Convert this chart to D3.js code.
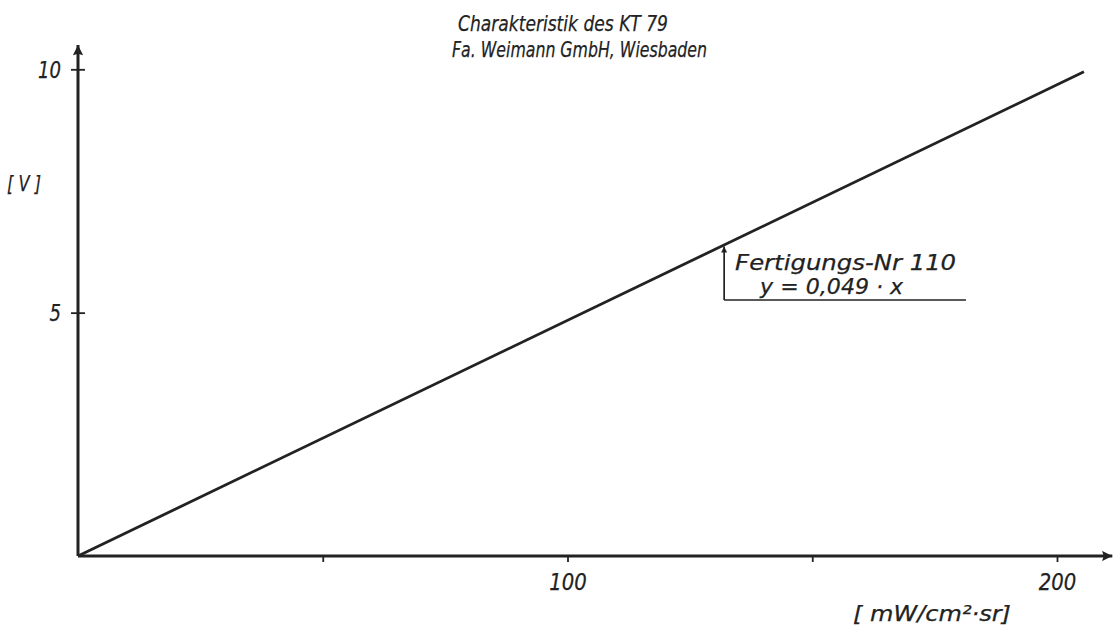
<!DOCTYPE html>
<html><head><meta charset="utf-8">
<script src="https://cdn.jsdelivr.net/npm/d3@7"></script>
<style>
html,body{margin:0;padding:0;background:#fff;}
svg text{font-family:"DejaVu Sans","Liberation Sans",sans-serif;font-style:italic;fill:#222;stroke:#222;stroke-width:0.25;}
</style></head>
<body>
<svg id="chart" width="1113" height="627"></svg>
<script>
// ---- data ----
const titleLines = ["Charakteristik des KT 79", "Fa. Weimann GmbH, Wiesbaden"];
const xTicks = [50, 100, 150, 200];
const xTickLabels = ["", "100", "", "200"];
const yTicks = [5, 10];
const yTickLabels = ["5", "10"];
const xAxisLabel = "[ mW/cm²·sr]";
const yAxisLabel = "[ V ]";
const lineX = [0, 205.5];
const lineY = [0, 9.95];
const annotationLines = ["Fertigungs-Nr 110", "y = 0,049 · x"];
const annotationAnchor = [132, 5.26]; // arrow foot (x, y in data units)
const annotationEndX = 181.4;
const xAxisMax = 211.3, yAxisMax = 10.5;

// ---- drawing ----
const svg = d3.select("#chart");
const ink = "#222";
const x = d3.scaleLinear().domain([0, 200]).range([78, 1057]);
const y = d3.scaleLinear().domain([0, 10]).range([556, 69.3]);

const defs = svg.append("defs");
defs.append("marker").attr("id","arr").attr("viewBox","0 0 10 10").attr("refX",10).attr("refY",5)
  .attr("markerWidth",6.5).attr("markerHeight",3.4).attr("markerUnits","strokeWidth").attr("orient","auto")
  .append("path").attr("d","M0,0 L10,5 L0,10 L1.5,5 Z").attr("fill",ink);
defs.append("marker").attr("id","arrSmall").attr("viewBox","0 0 10 10").attr("refX",10).attr("refY",5)
  .attr("markerWidth",6).attr("markerHeight",3.5).attr("markerUnits","strokeWidth").attr("orient","auto")
  .append("path").attr("d","M0,0 L10,5 L0,10 Z").attr("fill",ink);

// x axis
const xAxis = d3.axisBottom(x).tickValues(xTicks).tickSize(6)
  .tickFormat((d,i) => xTickLabels[i]);
const gx = svg.append("g").attr("transform", `translate(0,${y(0)})`).call(xAxis);
gx.select(".domain").remove();
gx.selectAll(".tick line").attr("stroke", ink).attr("stroke-width", 1.8);
gx.selectAll(".tick text").attr("font-size", 23).attr("dy", null).attr("y", 34)
  .attr("fill", ink).attr("font-family", null)
  .each(function(d,i){ if (xTickLabels[i]) d3.select(this).attr("textLength", xTickLabels[i].length*12.5).attr("lengthAdjust","spacingAndGlyphs"); });

// y axis
const yAxis = d3.axisLeft(y).tickValues(yTicks).tickSize(6).tickFormat((d,i) => yTickLabels[i]);
const gy = svg.append("g").attr("transform", `translate(${x(0)},0)`).call(yAxis);
gy.select(".domain").remove();
gy.selectAll(".tick line").attr("x1", -7).attr("x2", 7).attr("stroke", ink).attr("stroke-width", 1.8);
gy.selectAll(".tick text").attr("font-size", 23).attr("dy", "0.36em").attr("x", -17)
  .attr("fill", ink).attr("font-family", null)
  .each(function(d,i){ d3.select(this).attr("textLength", yTickLabels[i].length*11.5).attr("lengthAdjust","spacingAndGlyphs"); });

// axis lines with arrows
svg.append("line").attr("x1", x(0)).attr("y1", y(0)).attr("x2", x(xAxisMax)).attr("y2", y(0))
  .attr("stroke", ink).attr("stroke-width", 3).attr("marker-end","url(#arr)");
svg.append("line").attr("x1", x(0)).attr("y1", y(0)).attr("x2", x(0)).attr("y2", y(yAxisMax))
  .attr("stroke", ink).attr("stroke-width", 3).attr("marker-end","url(#arr)");

// characteristic line
const pts = lineX.map((v,i)=>[v, lineY[i]]);
svg.append("path").datum(pts)
  .attr("d", d3.line().x(d=>x(d[0])).y(d=>y(d[1])))
  .attr("fill","none").attr("stroke", ink).attr("stroke-width", 2.8);

// annotation
const slope = lineY[1]/lineX[1];
const ax = annotationAnchor[0];
svg.append("line").attr("x1", x(ax)).attr("y1", y(annotationAnchor[1]))
  .attr("x2", x(ax)).attr("y2", y(slope*ax)+1.5)
  .attr("stroke", ink).attr("stroke-width", 1.7).attr("marker-end","url(#arrSmall)");
svg.append("line").attr("x1", x(ax)).attr("y1", y(annotationAnchor[1]))
  .attr("x2", x(annotationEndX)).attr("y2", y(annotationAnchor[1]))
  .attr("stroke", ink).attr("stroke-width", 1.7);
svg.append("text").attr("x", x(ax)+11).attr("y", y(annotationAnchor[1])-30)
  .attr("font-size", 22).attr("textLength", 221).attr("lengthAdjust","spacingAndGlyphs").text(annotationLines[0]);
svg.append("text").attr("x", x(ax)+36).attr("y", y(annotationAnchor[1])-6)
  .attr("font-size", 22).attr("textLength", 143).attr("lengthAdjust","spacingAndGlyphs").text(annotationLines[1]);

// title
svg.append("text").attr("x", 458).attr("y", 31).attr("font-size", 22)
  .attr("textLength", 210).attr("lengthAdjust","spacingAndGlyphs").text(titleLines[0]);
svg.append("text").attr("x", 452).attr("y", 57).attr("font-size", 22)
  .attr("textLength", 255).attr("lengthAdjust","spacingAndGlyphs").text(titleLines[1]);

// axis labels
svg.append("text").attr("x", 7).attr("y", 191).attr("font-size", 22)
  .attr("textLength", 34).attr("lengthAdjust","spacingAndGlyphs").text(yAxisLabel);
svg.append("text").attr("x", 853).attr("y", 621).attr("font-size", 22)
  .attr("textLength", 158).attr("lengthAdjust","spacingAndGlyphs").text(xAxisLabel);
</script>
</body></html>
